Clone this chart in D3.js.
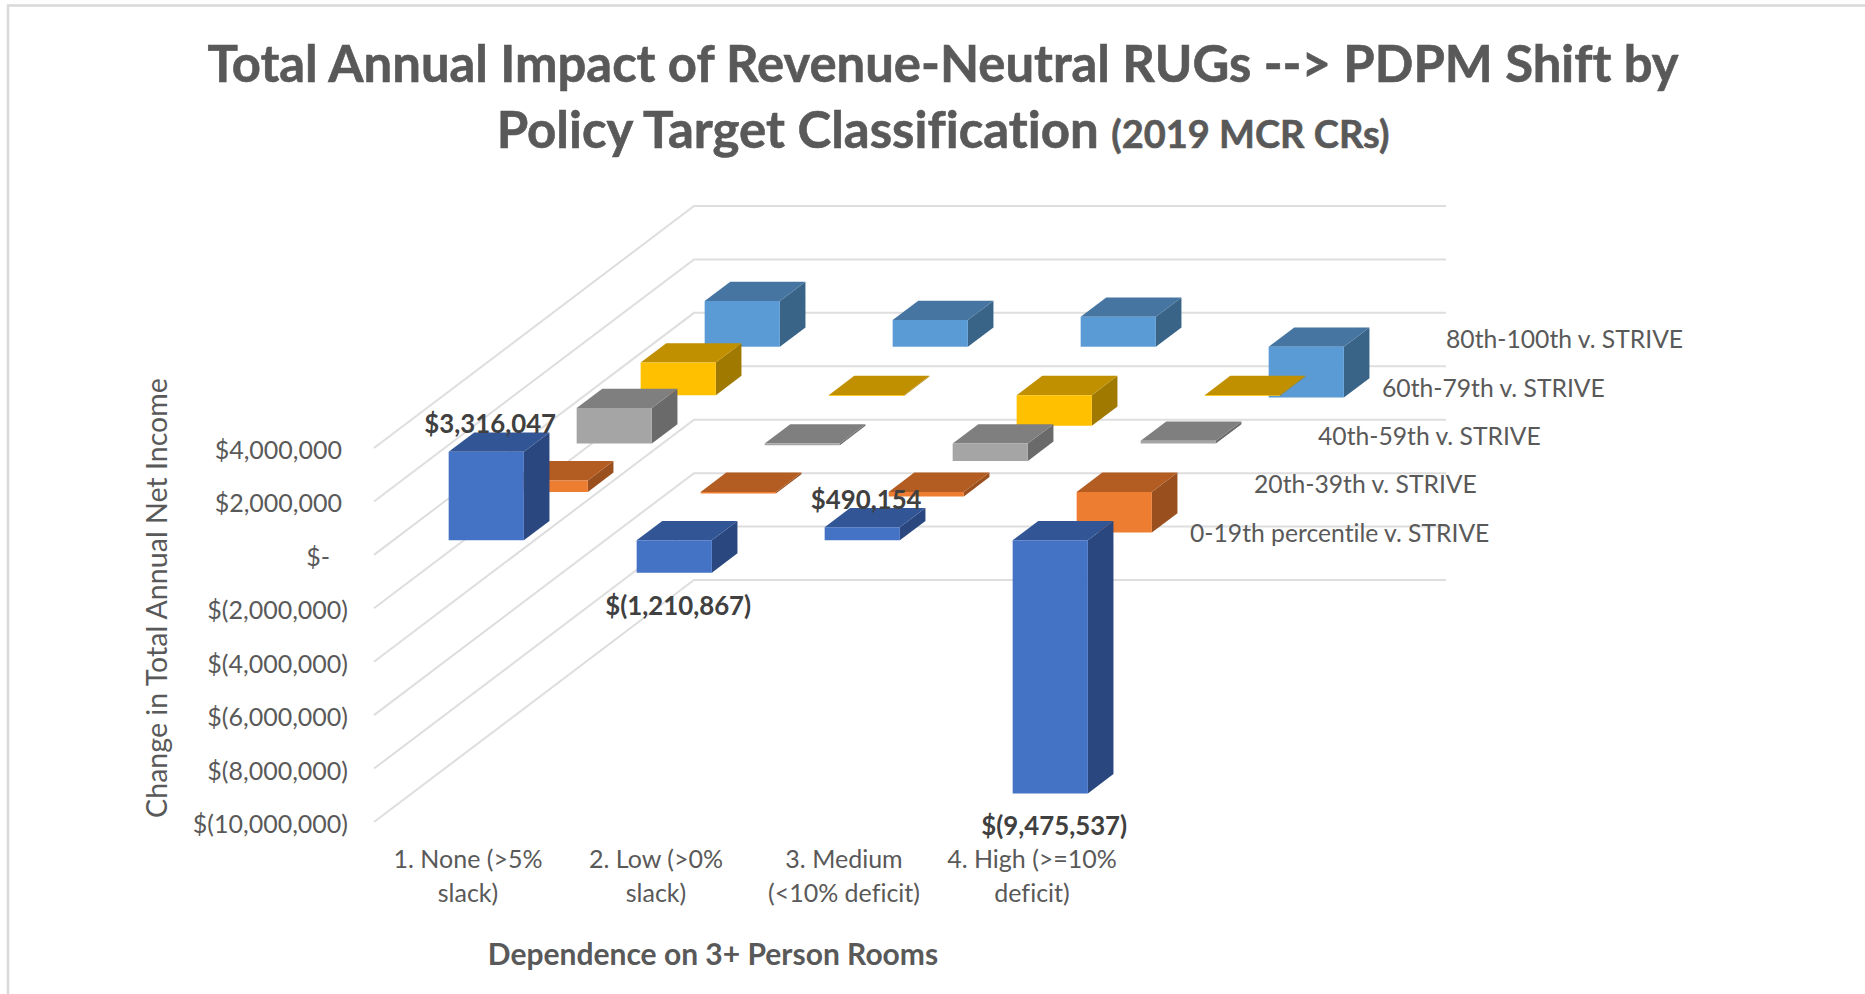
<!DOCTYPE html>
<html><head><meta charset="utf-8">
<style>html,body{margin:0;background:#fff;overflow:hidden}text{font-family:Lato,sans-serif;fill:#595959;font-variant-ligatures:none}</style>
<script src="https://cdn.jsdelivr.net/npm/d3@7"></script></head><body>
<svg id="c" width="1865" height="994"></svg>
<script>
const categories=[["1. None (>5%","slack)"],["2. Low (>0%","slack)"],["3. Medium","(<10% deficit)"],["4. High (>=10%","deficit)"]];
const seriesNames=["0-19th percentile v. STRIVE","20th-39th v. STRIVE","40th-59th v. STRIVE","60th-79th v. STRIVE","80th-100th v. STRIVE"];
const values0=[3316047,-1210867,490154,-9475537];
const values1=[430000,-60000,-170000,-1520000];
const values2=[1330000,-60000,-650000,100000];
const values3=[1220000,-30000,-1150000,-30000];
const values4=[1710000,1000000,1120000,-1900000];
const allValues=[values0,values1,values2,values3,values4];
const frontColors=["#4472c4","#ed7d31","#a5a5a5","#ffc000","#5b9bd5"];
const topColors=["#325596","#b35d23","#7f7f7f","#c09000","#4575a0"];
const sideColors=["#2a4780","#9a4f1e","#6a6a6a","#a07a00","#396487"];
const yTicks=[4000000,2000000,0,-2000000,-4000000,-6000000,-8000000,-10000000];
const dataLabels=["$3,316,047","$(1,210,867)","$490,154","$(9,475,537)"];

const svg=d3.select("#c");
const xCol=d3.scaleLinear().domain([0,4]).range([374,1126]);
const depthX=d3.scaleLinear().domain([0,5]).range([0,320]);
const depthY=d3.scaleLinear().domain([0,5]).range([0,242]);
const yVal=d3.scaleLinear().domain([-10000000,4000000]).range([822,448]);
const pt=(c,r,v)=>[xCol(c)+depthX(r),yVal(v)-depthY(r)];
const poly=a=>"M"+a.map(p=>p.join(",")).join("L")+"Z";

// frame
svg.append("path").attr("d","M8,1000V5.5H1870").attr("fill","none").attr("stroke","#d9d9d9").attr("stroke-width",2.5);

// gridlines
svg.append("g").selectAll("path").data(yTicks).join("path")
  .attr("d",v=>d3.line()([pt(0,0,v),pt(0,5,v),pt(4,5,v)]))
  .attr("fill","none").attr("stroke","#dedede").attr("stroke-width",2);

// bars: back row first
const bars=svg.append("g");
for(let r=4;r>=0;r--){
  allValues[r].forEach((v,c)=>{
    const c0=c+.295,c1=c+.695,d0=r+.3,d1=r+.7,hi=Math.max(v,0),lo=Math.min(v,0);
    const g=bars.append("g");
    g.append("path").attr("d",poly([pt(c1,d0,hi),pt(c1,d1,hi),pt(c1,d1,lo),pt(c1,d0,lo)])).attr("fill",sideColors[r]);
    g.append("path").attr("d",poly([pt(c0,d0,hi),pt(c0,d1,hi),pt(c1,d1,hi),pt(c1,d0,hi)])).attr("fill",topColors[r]);
    g.append("path").attr("d",poly([pt(c0,d0,hi),pt(c1,d0,hi),pt(c1,d0,lo),pt(c0,d0,lo)])).attr("fill",frontColors[r]);
  });
}

// y axis
const fmt=v=>v===0?"$-":v<0?"$("+d3.format(",")(-v)+")":"$"+d3.format(",")(v);
const ax=svg.append("g").attr("transform","translate(348,2.5)")
  .call(d3.axisLeft(yVal).tickValues(yTicks).tickFormat(fmt).tickSize(0).tickPadding(0));
ax.select(".domain").remove();
ax.selectAll("text").style("font-family","Lato").style("font-size","25px").style("fill","#595959")
  .attr("dx",v=>v===0?-18:v>0?-6:0);

// category labels
const catG=svg.append("g").selectAll("text").data(categories).join("text")
  .attr("text-anchor","middle").attr("font-size","25px")
  .attr("transform",(d,i)=>`translate(${xCol(i+.5)},0)`);
catG.selectAll("tspan").data(d=>d).join("tspan").attr("x",0).attr("y",(d,i)=>868+i*34).text(d=>d);

// series labels
svg.append("g").selectAll("text").data(seriesNames).join("text")
  .attr("font-size","24.7px")
  .attr("x",(d,r)=>xCol(4)+depthX(r+1)).attr("y",(d,r)=>yVal(0)-depthY(r)-13)
  .text(d=>d);

// data labels on the front row
svg.append("g").selectAll("text").data(dataLabels).join("text")
  .attr("text-anchor","middle").attr("font-size","25.8px").attr("font-weight",700).style("fill","#404040")
  .attr("x",(d,c)=>xCol(c+.5)+depthX(.3)+3)
  .attr("y",(d,c)=>{const v=values0[c];return v>0?yVal(v)-depthY(.7)+1:yVal(v)-depthY(.3)+42;})
  .text(d=>d);

// titles
const t=svg.append("g").attr("text-anchor","middle").style("stroke","#595959").style("stroke-width",0.6);
t.append("text").attr("x",943).attr("y",82).attr("font-size","50.8px").attr("font-weight",700).text("Total Annual Impact of Revenue-Neutral RUGs --> PDPM Shift by");
const t2=t.append("text").attr("x",943).attr("y",148).attr("font-size","51px").attr("font-weight",700);
t2.append("tspan").text("Policy Target Classification ");
t2.append("tspan").attr("font-size","38px").text("(2019 MCR CRs)");
svg.append("text").attr("x",713).attr("y",965).attr("text-anchor","middle").attr("font-size","30px").attr("font-weight",700).text("Dependence on 3+ Person Rooms");
svg.append("text").attr("transform","translate(167,598) rotate(-90)").attr("text-anchor","middle").attr("font-size","28.6px").text("Change in Total Annual Net Income");
</script></body></html>
